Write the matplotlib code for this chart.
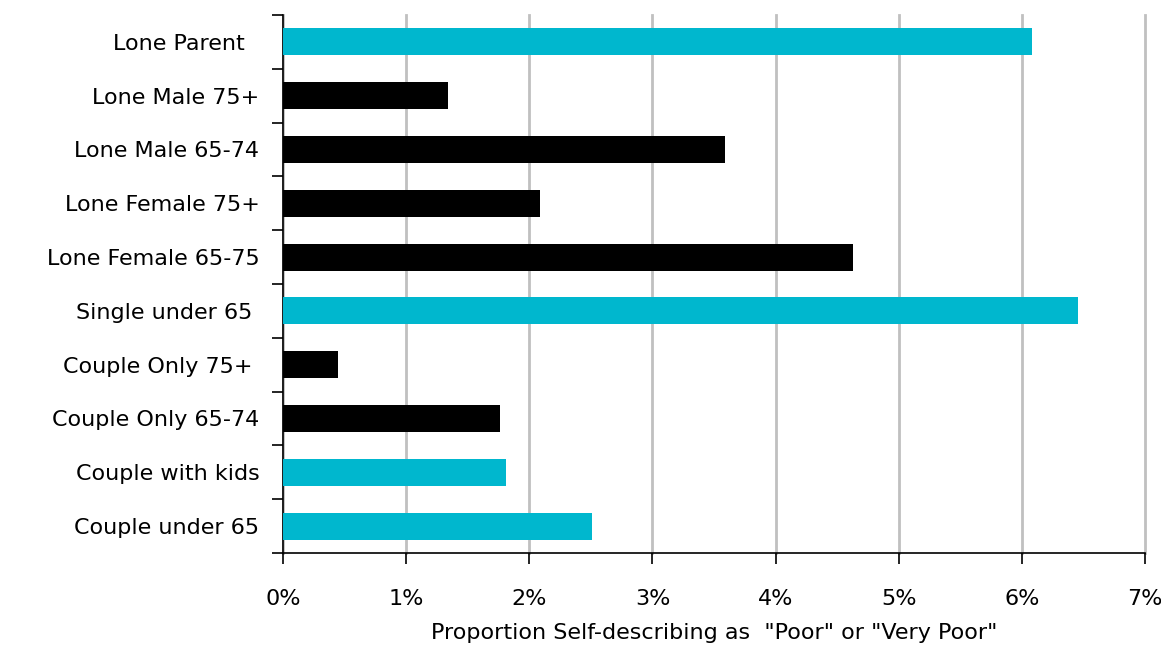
import matplotlib.pyplot as plt
import numpy as np

# categories top to bottom
labels = ['Lone Parent  ', 'Lone Male 75+', 'Lone Male 65-74', 'Lone Female 75+',
          'Lone Female 65-75', 'Single under 65 ', 'Couple Only 75+ ',
          'Couple Only 65-74', 'Couple with kids', 'Couple under 65']
values = [6.08, 1.34, 3.59, 2.09, 4.63, 6.46, 0.45, 1.76, 1.81, 2.51]
groups = ['other', 'older', 'older', 'older', 'older', 'other', 'older', 'older', 'other', 'other']

colours = {'other': '#00B7CE', 'older': '#000000'}

plt.rcParams['font.family'] = ['DejaVu Sans']
fs = 16

fig = plt.figure(figsize=(11.61, 6.48), dpi=100)
ax = fig.add_axes([0.2438, 0.1466, 0.7424, 0.8304])

y = np.arange(len(labels))[::-1]
ax.barh(y, values, height=0.5, color=[colours[g] for g in groups], zorder=3)

ax.set_xlim(0, 7)
ax.set_ylim(-0.5, len(labels) - 0.5)
ax.set_xticks(range(8))
ax.set_xticklabels(['%d%%' % i for i in range(8)], fontsize=fs)
ax.set_yticks(y)
ax.set_yticklabels(labels, fontsize=fs)
ax.set_yticks(np.arange(-0.5, len(labels)), minor=True)
ax.tick_params(axis='y', which='major', length=0, pad=17)
ax.tick_params(axis='y', which='minor', length=8, width=1.2, direction='out', color='black')
ax.tick_params(axis='x', length=8, width=1.2, pad=18, color='black')

ax.grid(axis='x', color='#c0c0c0', linewidth=2, zorder=0)
for gl in ax.get_xgridlines():
    gl.set_clip_on(False)
for s in ['top', 'right']:
    ax.spines[s].set_visible(False)
ax.spines['left'].set_linewidth(1.2)
ax.spines['bottom'].set_linewidth(1.2)

ax.set_xlabel('Proportion Self-describing as  "Poor" or "Very Poor"', fontsize=fs, labelpad=10)

fig.savefig('out.png', dpi=100)
